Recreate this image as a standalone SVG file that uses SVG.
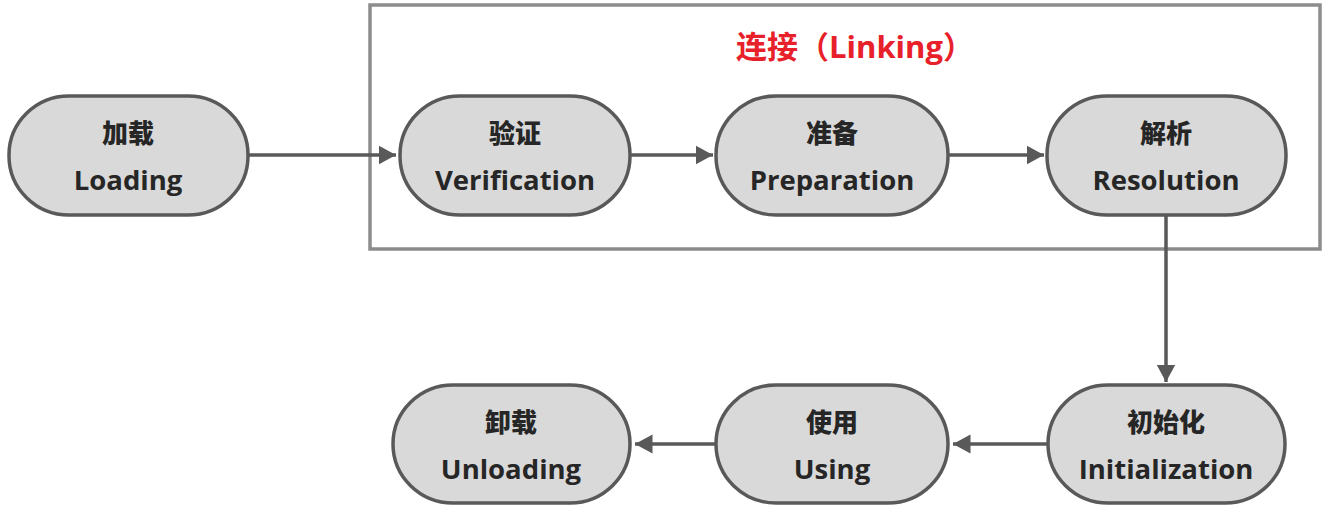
<svg xmlns="http://www.w3.org/2000/svg" width="1329" height="508" viewBox="0 0 1329 508">
<style>
.n{fill:#d9d9d9;stroke:#595959;stroke-width:3.5}
.t{font-family:"Open Sans","Noto Sans CJK SC",sans-serif;font-weight:bold;font-size:27.5px;fill:#262626;text-anchor:middle}
.c{font-family:"Noto Sans CJK SC",sans-serif;font-weight:900;font-size:26px;fill:#262626;text-anchor:middle}
.e{stroke:#595959;stroke-width:3.5;fill:none;marker-end:url(#a)}
</style>
<defs>
<marker id="a" markerWidth="6" markerHeight="6" refX="5" refY="3" orient="auto" markerUnits="strokeWidth"><path d="M0,0.3L5,3L0,5.7z" fill="#595959"/></marker>
</defs>
<rect x="370" y="5" width="950" height="244" fill="none" stroke="#8c8c8c" stroke-width="3.5"/>
<text x="855" y="58" font-family="'Open Sans','Noto Sans CJK SC',sans-serif" font-weight="bold" font-size="31" fill="#e8202a" text-anchor="middle">连接（Linking）</text>
<g id="connectors">
<line class="e" x1="248" y1="155" x2="396" y2="155"/>
<line class="e" x1="630" y1="155" x2="713" y2="155"/>
<line class="e" x1="948" y1="155" x2="1044" y2="155"/>
<line class="e" x1="1166" y1="215" x2="1166" y2="382"/>
<line class="e" x1="1048" y1="444" x2="953" y2="444"/>
<line class="e" x1="716" y1="444" x2="635" y2="444"/>
</g>
<g id="loading"><rect class="n" x="9" y="96" width="239" height="119" rx="60" ry="59"/><text class="c" x="128" y="143">加载</text><text class="t" x="128" y="190">Loading</text></g>
<g id="verification"><rect class="n" x="400" y="96" width="230" height="119" rx="60" ry="59"/><text class="c" x="515" y="143">验证</text><text class="t" x="515" y="190">Verification</text></g>
<g id="preparation"><rect class="n" x="716" y="96" width="232" height="119" rx="60" ry="59"/><text class="c" x="832" y="143">准备</text><text class="t" x="832" y="190">Preparation</text></g>
<g id="resolution"><rect class="n" x="1047" y="96" width="239" height="119" rx="60" ry="59"/><text class="c" x="1166" y="143">解析</text><text class="t" x="1166" y="190">Resolution</text></g>
<g id="initialization"><rect class="n" x="1048" y="385" width="237" height="118" rx="60" ry="59"/><text class="c" x="1166" y="432">初始化</text><text class="t" x="1166" y="479">Initialization</text></g>
<g id="using"><rect class="n" x="716" y="385" width="232" height="118" rx="60" ry="59"/><text class="c" x="832" y="432">使用</text><text class="t" x="832" y="479">Using</text></g>
<g id="unloading"><rect class="n" x="393" y="385" width="237" height="118" rx="60" ry="59"/><text class="c" x="511" y="432">卸载</text><text class="t" x="511" y="479">Unloading</text></g>
</svg>
